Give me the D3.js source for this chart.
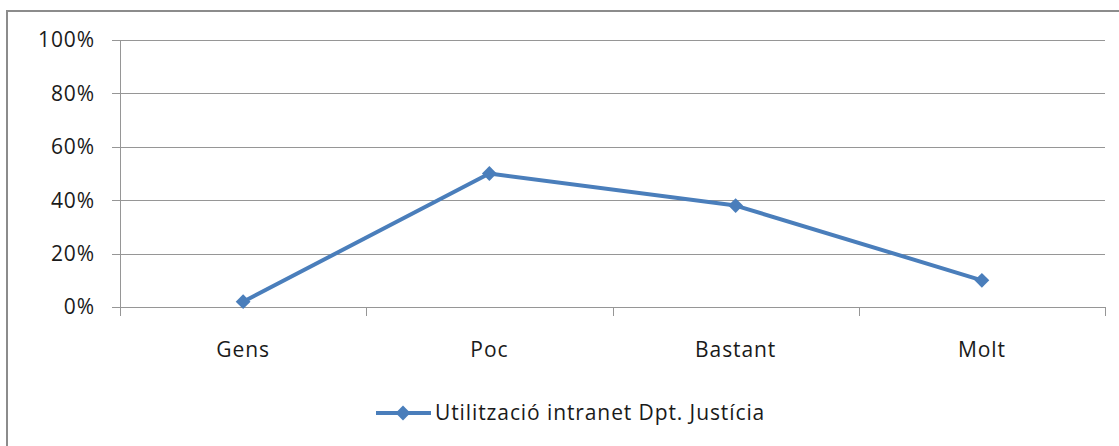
<!DOCTYPE html>
<html>
<head>
<meta charset="utf-8">
<script src="https://cdn.jsdelivr.net/npm/d3@7"></script>
<style>
  body { margin: 0; background: #fff; }
  text { font-family: "Open Sans", "Noto Sans", sans-serif; fill: #1a1a1a; letter-spacing: 0.9px; }
</style>
</head>
<body>
<div class="chart-container"></div>
<script>
var categories = ["Gens", "Poc", "Bastant", "Molt"];
var values = [0.02, 0.50, 0.38, 0.10];
var yTicks = [0, 0.2, 0.4, 0.6, 0.8, 1];
var seriesName = "Utilització intranet Dpt. Justícia";

var margin = {top: 40, right: 14, bottom: 139, left: 120},
    fullWidth = 1119, fullHeight = 446,
    width = fullWidth - margin.left - margin.right,
    height = fullHeight - margin.top - margin.bottom;

var svg = d3.select(".chart-container").append("svg")
    .attr("width", fullWidth)
    .attr("height", fullHeight);

// outer frame
svg.append("rect")
    .attr("x", 7).attr("y", 11)
    .attr("width", fullWidth).attr("height", fullHeight)
    .attr("fill", "none")
    .attr("stroke", "#8c8c8c")
    .attr("stroke-width", 2);

var g = svg.append("g")
    .attr("transform", "translate(" + margin.left + "," + margin.top + ")");

var y = d3.scaleLinear().domain([0, 1]).range([height, 0]);
var x = d3.scaleBand().domain(categories).range([0, width]);

// gridlines
g.selectAll(".grid")
    .data(yTicks)
    .join("line")
    .attr("class", "grid")
    .attr("x1", -8).attr("x2", width)
    .attr("y1", function(d){ return Math.round(y(d)) + 0.5; })
    .attr("y2", function(d){ return Math.round(y(d)) + 0.5; })
    .attr("stroke", "#969696")
    .attr("stroke-width", 1);

// y axis line
g.append("line")
    .attr("x1", 0.5).attr("x2", 0.5)
    .attr("y1", 0).attr("y2", height)
    .attr("stroke", "#969696");

// y labels
g.selectAll(".ylab")
    .data(yTicks)
    .join("text")
    .attr("class", "ylab")
    .attr("x", -25)
    .attr("y", function(d){ return y(d); })
    .attr("dy", "0.35em")
    .attr("text-anchor", "end")
    .style("font-size", "21px")
    .text(d3.format(".0%"));

// x ticks at category boundaries
var bounds = categories.map(function(c){ return x(c); }).concat([width]);
g.selectAll(".xtick")
    .data(bounds)
    .join("line")
    .attr("class", "xtick")
    .attr("x1", function(d){ return Math.round(d) + 0.5; })
    .attr("x2", function(d){ return Math.round(d) + 0.5; })
    .attr("y1", height).attr("y2", height + 9)
    .attr("stroke", "#969696");

// x labels
g.selectAll(".xlab")
    .data(categories)
    .join("text")
    .attr("class", "xlab")
    .attr("x", function(d){ return x(d) + x.bandwidth() / 2; })
    .attr("y", height + 50)
    .attr("text-anchor", "middle")
    .style("font-size", "21px")
    .text(function(d){ return d; });

var color = "#4a7ebb";
var line = d3.line()
    .x(function(d, i){ return x(categories[i]) + x.bandwidth() / 2; })
    .y(function(d){ return y(d); });

g.append("path")
    .datum(values)
    .attr("d", line)
    .attr("fill", "none")
    .attr("stroke", color)
    .attr("stroke-width", 4)
    .attr("stroke-linejoin", "round");

var diamond = d3.symbol().type(d3.symbolDiamond2).size(140);
g.selectAll(".marker")
    .data(values)
    .join("path")
    .attr("class", "marker")
    .attr("d", diamond)
    .attr("transform", function(d, i){
        return "translate(" + (x(categories[i]) + x.bandwidth() / 2) + "," + y(d) + ")";
    })
    .attr("fill", color);

// legend
var legend = svg.append("g").attr("transform", "translate(376,413)");
legend.append("line")
    .attr("x1", 0).attr("x2", 55)
    .attr("stroke", color).attr("stroke-width", 4);
legend.append("path")
    .attr("d", diamond)
    .attr("transform", "translate(27,0)")
    .attr("fill", color);
legend.append("text")
    .attr("x", 59).attr("y", 0)
    .attr("dy", "0.35em")
    .style("font-size", "21px")
    .text(seriesName);
</script>
</body>
</html>
